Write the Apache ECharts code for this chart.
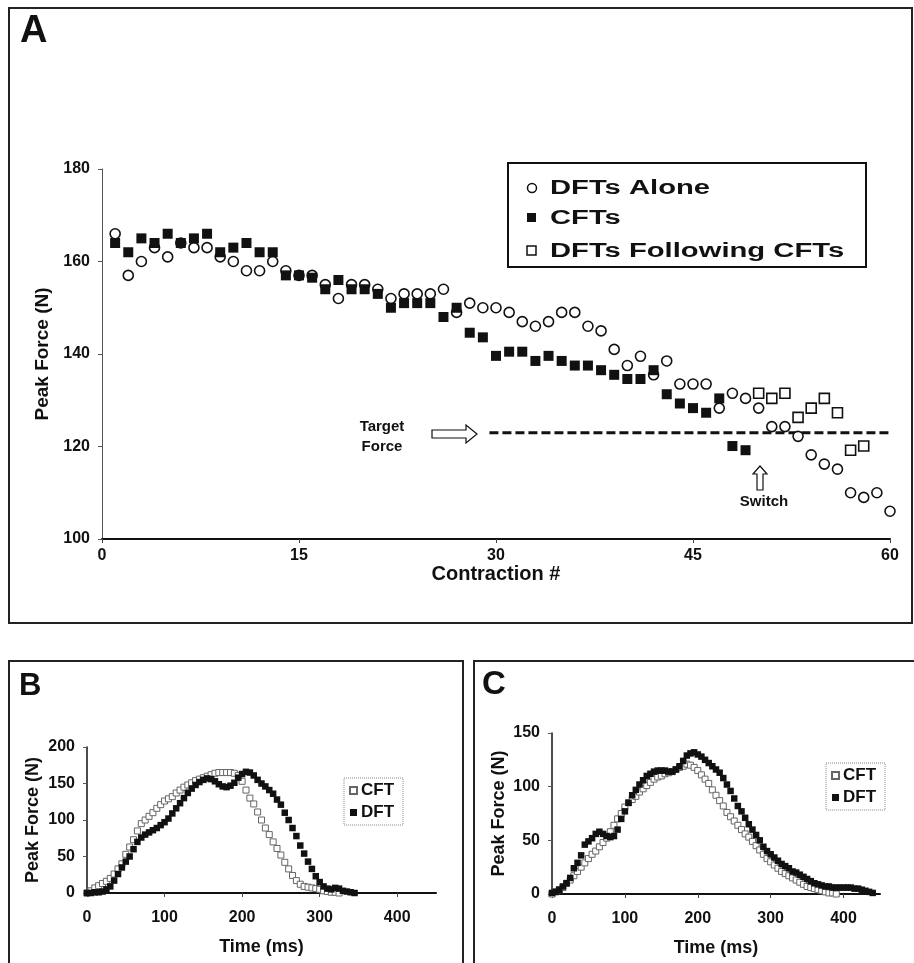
<!DOCTYPE html>
<html>
<head>
<meta charset="utf-8">
<title>Peak force</title>
<script src="https://cdn.jsdelivr.net/npm/echarts@6.0.0/dist/echarts.min.js"></script>
<style>
html, body { margin: 0; padding: 0; background: #fff; }
#main { width: 914px; height: 963px; }
</style>
</head>
<body>
<div id="main"></div>
<script>
// panel A: peak force per contraction (contraction # starts at 1)
var aloneForce = [166, 157, 160, 163, 161, 164, 163, 163, 161, 160, 158, 158, 160, 158, 157, 157, 155, 152, 155, 155,
    154, 152, 153, 153, 153, 154, 149, 151, 150, 150, 149, 147, 146, 147, 149, 149, 146, 145, 141, 137.5,
    139.5, 135.5, 138.5, 133.5, 133.5, 133.5, 128.3, 131.5, 130.4, 128.3, 124.3, 124.3, 122.2, 118.2, 116.2, 115.1, 110, 109, 110, 106];
var cftForce = [164, 162, 165, 164, 166, 164, 165, 166, 162, 163, 164, 162, 162, 157, 157, 156.5, 154, 156, 154, 154,
    153, 150, 151, 151, 151, 148, 150, 144.6, 143.6, 139.6, 140.5, 140.5, 138.5, 139.6, 138.5, 137.5, 137.5, 136.5, 135.5, 134.6,
    134.6, 136.5, 131.3, 129.3, 128.3, 127.3, 130.4, 120.1, 119.2];
var followStart = 50;
var followForce = [131.5, 130.4, 131.5, 126.3, 128.3, 130.4, 127.3, 119.2, 120.1];
var targetForce = 123;
var targetFrom = 29.5, targetTo = 60;

// panels B and C: force traces, one sample every 5 ms
var stepMs = 5;
var bCft = [0, 3, 7, 10, 13, 16, 20, 26, 33, 40, 53, 63, 73, 85, 95, 100, 105, 110, 116, 121,
    126, 129, 132, 137, 141, 145, 148, 151, 154, 156, 158, 160, 162, 164, 165, 165, 165, 165, 164, 161,
    153, 141, 130, 122, 111, 100, 89, 80, 70, 61, 52, 42, 33, 24, 17, 12, 9, 8, 7, 6, 5, 3, 2, 1, 1, 0];
var bDft = [0, 0, 1, 1, 2, 5, 9, 17, 26, 35, 43, 50, 60, 70, 76, 80, 83, 86, 89, 93,
    97, 102, 109, 116, 123, 130, 137, 143, 148, 152, 155, 157, 156, 153, 149, 146, 145, 147, 151, 158,
    163, 166, 165, 161, 155, 150, 146, 141, 136, 128, 121, 110, 100, 89, 78, 65, 54, 43, 33, 23,
    15, 9, 6, 5, 7, 6, 3, 2, 1, 0];
var cCft = [0, 2, 4, 6, 10, 13, 17, 21, 25, 29, 33, 37, 40, 44, 48, 52, 58, 64, 70, 75,
    81, 85, 88, 91, 95, 98, 101, 104, 107, 109, 110, 112, 113, 114, 116, 118, 119, 121, 120, 118,
    115, 111, 107, 103, 97, 92, 87, 82, 76, 72, 68, 64, 60, 56, 53, 49, 45, 41, 37, 33,
    30, 27, 24, 21, 19, 17, 15, 13, 11, 9, 7, 6, 5, 4, 3, 2, 1, 1, 0];
var cDft = [1, 2, 4, 7, 10, 15, 24, 29, 36, 46, 49, 52, 56, 58, 56, 54, 53, 54, 60, 70,
    77, 85, 92, 97, 102, 106, 110, 112, 114, 115, 115, 115, 114, 114, 116, 119, 124, 129, 131, 132,
    130, 128, 125, 122, 119, 116, 113, 108, 102, 96, 89, 82, 77, 71, 65, 60, 55, 50, 44, 40,
    37, 34, 31, 28, 26, 24, 21, 20, 18, 16, 14, 12, 10, 9, 8, 7, 7, 6, 6, 6,
    6, 6, 6, 5, 5, 4, 3, 2, 1];

var FONT = 'Liberation Sans, Arial, sans-serif';
var INK = '#111';

function pairs(list, start, step) {
    var out = [];
    for (var i = 0; i < list.length; i++) {
        out.push([start + i * step, list[i]]);
    }
    return out;
}

function xAxisOf(grid, min, max, interval, name, nameGap) {
    return {
        gridIndex: grid, type: 'value', min: min, max: max, interval: interval,
        name: name, nameLocation: 'middle', nameGap: nameGap,
        nameTextStyle: { color: INK, fontFamily: FONT, fontWeight: 'bold', fontSize: grid == 0 ? 20 : 18 },
        axisLine: { show: true, onZero: false, lineStyle: { color: INK, width: 2 } },
        axisTick: { show: true, length: 4, lineStyle: { color: '#444', width: 1 } },
        axisLabel: { color: INK, fontFamily: FONT, fontWeight: 'bold', fontSize: 16, margin: grid == 0 ? 9 : 17, showMaxLabel: grid == 0 },
        splitLine: { show: false }
    };
}

function yAxisOf(grid, min, max, interval, nameGap) {
    return {
        gridIndex: grid, type: 'value', min: min, max: max, interval: interval,
        name: 'Peak Force (N)', nameLocation: 'middle', nameGap: nameGap,
        nameTextStyle: { color: INK, fontFamily: FONT, fontWeight: 'bold', fontSize: grid == 0 ? 19 : 18 },
        axisLine: { show: true, onZero: false, lineStyle: { color: grid == 0 ? '#555' : INK, width: grid == 0 ? 1 : 1.5 } },
        axisTick: { show: true, length: 4, lineStyle: { color: '#555', width: 1 } },
        axisLabel: { color: INK, fontFamily: FONT, fontWeight: 'bold', fontSize: 16, margin: 12 },
        splitLine: { show: false }
    };
}

function boldText(x, y, str, size, align) {
    return {
        type: 'text', x: x, y: y, z: 10,
        style: { text: str, fill: INK, font: 'bold ' + size + 'px ' + FONT, textAlign: align || 'center', textVerticalAlign: 'middle' }
    };
}

function smallLegend(left, top) {
    return {
        data: ['CFT', 'DFT'], orient: 'vertical', left: left, top: top,
        itemWidth: 7, itemHeight: 7, itemGap: 5, padding: [4, 9, 4, 5],
        borderColor: '#888', borderWidth: 1, borderType: 'dotted',
        textStyle: { color: INK, fontFamily: FONT, fontWeight: 'bold', fontSize: 17, padding: [0, 0, 0, -1] }
    };
}

var chart = echarts.init(document.getElementById('main'));

var option = {
    animation: false,
    backgroundColor: '#fff',
    grid: [
        { left: 102, top: 169, width: 788, height: 370, outerBoundsMode: 'none' },
        { left: 87, top: 747, width: 349, height: 146, outerBoundsMode: 'none' },
        { left: 552, top: 733, width: 328, height: 161, outerBoundsMode: 'none' }
    ],
    xAxis: [
        xAxisOf(0, 0, 60, 15, 'Contraction #', 23),
        xAxisOf(1, 0, 450, 100, 'Time (ms)', 45),
        xAxisOf(2, 0, 450, 100, 'Time (ms)', 45)
    ],
    yAxis: [
        yAxisOf(0, 100, 180, 20, 49),
        yAxisOf(1, 0, 200, 50, 45),
        yAxisOf(2, 0, 150, 50, 44)
    ],
    legend: [smallLegend(344, 778), smallLegend(826, 763)],
    series: [
        {
            name: 'Target Force', type: 'line', xAxisIndex: 0, yAxisIndex: 0, z: 1,
            data: [[targetFrom, targetForce], [targetTo, targetForce]],
            symbol: 'none', lineStyle: { color: INK, width: 3, type: [9, 4] }
        },
        {
            name: 'DFTs Alone', type: 'scatter', xAxisIndex: 0, yAxisIndex: 0,
            data: pairs(aloneForce, 1, 1), symbol: 'circle', symbolSize: 10,
            itemStyle: { color: '#fff', borderColor: INK, borderWidth: 1.6, opacity: 1 }
        },
        {
            name: 'CFTs', type: 'scatter', xAxisIndex: 0, yAxisIndex: 0,
            data: pairs(cftForce, 1, 1), symbol: 'rect', symbolSize: 10,
            itemStyle: { color: INK, opacity: 1 }
        },
        {
            name: 'DFTs Following CFTs', type: 'scatter', xAxisIndex: 0, yAxisIndex: 0,
            data: pairs(followForce, followStart, 1), symbol: 'rect', symbolSize: 10,
            itemStyle: { color: '#fff', borderColor: INK, borderWidth: 1.6, opacity: 1 }
        },
        {
            name: 'CFT', type: 'scatter', xAxisIndex: 1, yAxisIndex: 1,
            data: pairs(bCft, 0, stepMs), symbol: 'rect', symbolSize: 6,
            itemStyle: { color: '#fff', borderColor: '#666', borderWidth: 1, opacity: 1 }
        },
        {
            name: 'DFT', type: 'scatter', xAxisIndex: 1, yAxisIndex: 1,
            data: pairs(bDft, 0, stepMs), symbol: 'rect', symbolSize: 6.5,
            itemStyle: { color: INK, opacity: 1 }
        },
        {
            name: 'CFT', type: 'scatter', xAxisIndex: 2, yAxisIndex: 2,
            data: pairs(cCft, 0, stepMs), symbol: 'rect', symbolSize: 6,
            itemStyle: { color: '#fff', borderColor: '#666', borderWidth: 1, opacity: 1 }
        },
        {
            name: 'DFT', type: 'scatter', xAxisIndex: 2, yAxisIndex: 2,
            data: pairs(cDft, 0, stepMs), symbol: 'rect', symbolSize: 6.5,
            itemStyle: { color: INK, opacity: 1 }
        }
    ],
    graphic: [
        // panel frames
        { type: 'rect', shape: { x: 9, y: 8, width: 903, height: 615 }, style: { fill: 'none', stroke: '#222', lineWidth: 2 } },
        { type: 'rect', shape: { x: 9, y: 661, width: 454, height: 330 }, style: { fill: 'none', stroke: '#222', lineWidth: 2 } },
        { type: 'rect', shape: { x: 474, y: 661, width: 460, height: 330 }, style: { fill: 'none', stroke: '#222', lineWidth: 2 } },
        // panel letters
        boldText(20, 32, 'A', 38, 'left'),
        boldText(19, 686, 'B', 31, 'left'),
        boldText(482, 685, 'C', 33, 'left'),
        // legend of panel A
        { type: 'rect', z: 10, shape: { x: 508, y: 163, width: 358, height: 104 }, style: { fill: '#fff', stroke: INK, lineWidth: 2 } },
        { type: 'circle', z: 11, shape: { cx: 532, cy: 188, r: 4.5 }, style: { fill: '#fff', stroke: INK, lineWidth: 1.5 } },
        { type: 'rect', z: 11, shape: { x: 527, y: 213, width: 9, height: 9 }, style: { fill: INK } },
        { type: 'rect', z: 11, shape: { x: 527, y: 246, width: 9, height: 9 }, style: { fill: '#fff', stroke: INK, lineWidth: 1.5 } },
        {
            type: 'text', x: 550, y: 188, scaleX: 1.46, z: 11,
            style: { text: 'DFTs Alone', fill: INK, font: 'bold 20px ' + FONT, textAlign: 'left', textVerticalAlign: 'middle' }
        },
        {
            type: 'text', x: 550, y: 218, scaleX: 1.46, z: 11,
            style: { text: 'CFTs', fill: INK, font: 'bold 20px ' + FONT, textAlign: 'left', textVerticalAlign: 'middle' }
        },
        {
            type: 'text', x: 550, y: 251, scaleX: 1.46, z: 11,
            style: { text: 'DFTs Following CFTs', fill: INK, font: 'bold 20px ' + FONT, textAlign: 'left', textVerticalAlign: 'middle' }
        },
        // annotations
        boldText(382, 427, 'Target', 15),
        boldText(382, 447, 'Force', 15),
        {
            type: 'polygon', z: 10,
            shape: { points: [[432, 430], [466, 430], [466, 425], [477, 434], [466, 443], [466, 438], [432, 438]] },
            style: { fill: '#fff', stroke: INK, lineWidth: 1.2 }
        },
        {
            type: 'polygon', z: 10,
            shape: { points: [[760, 466], [767, 474], [763, 474], [763, 490], [757, 490], [757, 474], [753, 474]] },
            style: { fill: '#fff', stroke: INK, lineWidth: 1.2 }
        },
        boldText(764, 502, 'Switch', 15)
    ]
};

chart.setOption(option);
</script>
</body>
</html>
